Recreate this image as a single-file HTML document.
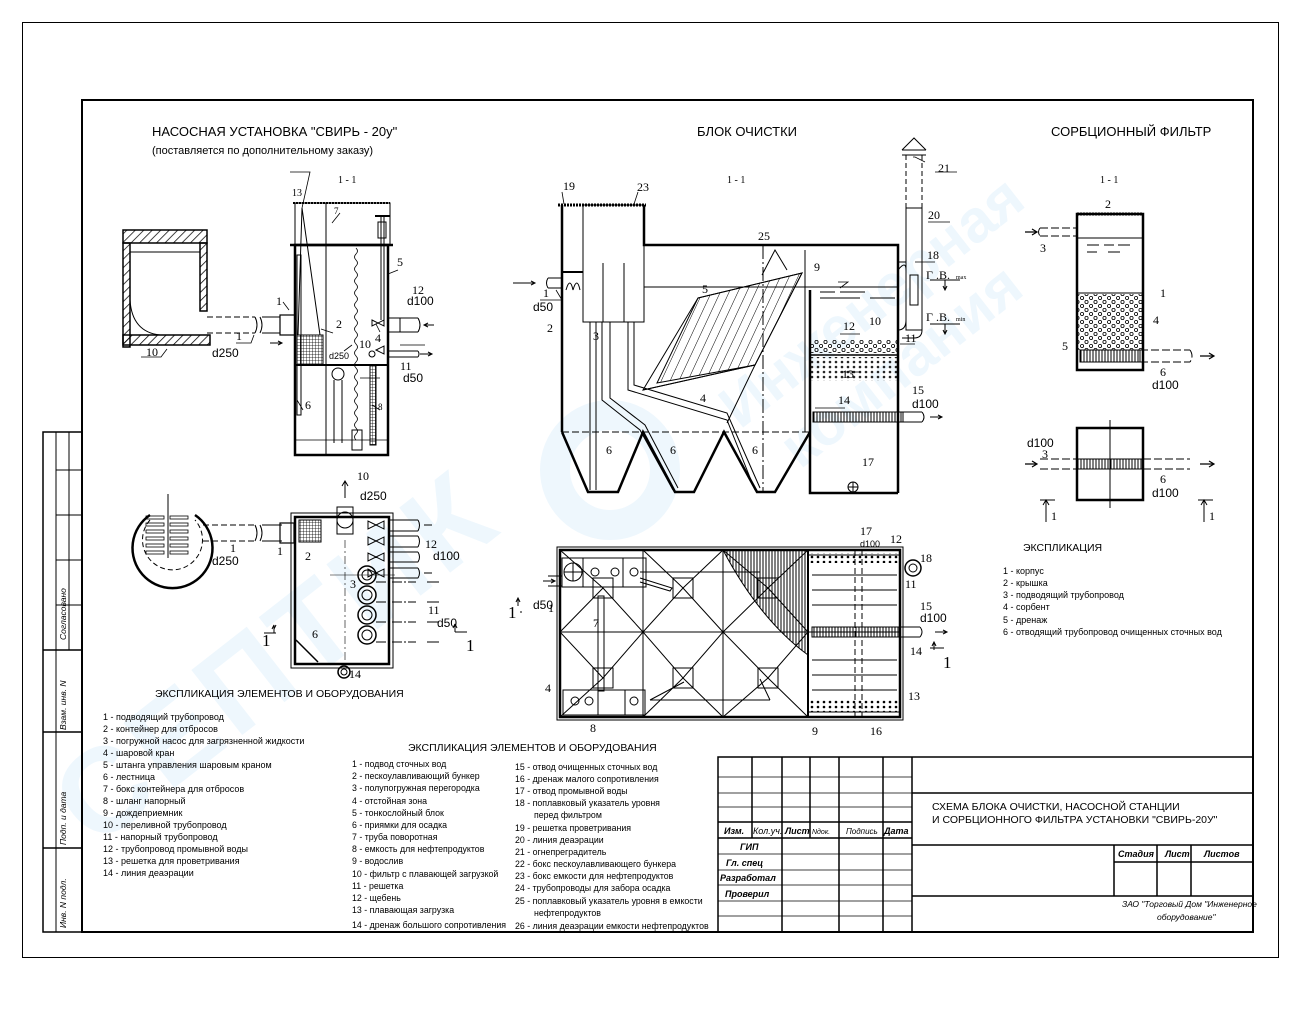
<!DOCTYPE html>
<html><head><meta charset="utf-8">
<style>
html,body{margin:0;padding:0;background:#fff}
svg{display:block}
text{font-family:"Liberation Sans",sans-serif;fill:#000}
.s{font-family:"Liberation Serif",serif}
</style></head><body>
<svg width="1300" height="1020" viewBox="0 0 1300 1020" xmlns="http://www.w3.org/2000/svg">
<defs>
<pattern id="peb" width="9" height="8" patternUnits="userSpaceOnUse">
<circle cx="2" cy="2" r="1.6" fill="none" stroke="#000" stroke-width="0.8"/>
<circle cx="6.5" cy="6" r="1.6" fill="none" stroke="#000" stroke-width="0.8"/>
</pattern>
<pattern id="peb2" width="6" height="5" patternUnits="userSpaceOnUse">
<circle cx="2" cy="2" r="1.3" fill="#000"/>
</pattern>
<pattern id="vh" width="3" height="10" patternUnits="userSpaceOnUse">
<line x1="1" y1="0" x2="1" y2="10" stroke="#000" stroke-width="1"/>
</pattern>
<pattern id="grid" width="3" height="3" patternUnits="userSpaceOnUse">
<path d="M0 0H3M0 0V3" stroke="#000" stroke-width="0.8" fill="none"/>
</pattern>
<pattern id="diag" width="6" height="6" patternUnits="userSpaceOnUse" patternTransform="rotate(45)">
<line x1="0" y1="0" x2="0" y2="6" stroke="#000" stroke-width="1.5"/>
</pattern>
<pattern id="lam" width="8" height="8" patternUnits="userSpaceOnUse" patternTransform="rotate(25)">
<line x1="0" y1="0" x2="0" y2="8" stroke="#000" stroke-width="1"/>
</pattern>
</defs>

<!-- watermark -->
<g>
<text x="0" y="0" transform="translate(95,850) rotate(-38)" font-size="120" font-weight="bold" style="fill:#eef7fd" letter-spacing="6">СЕПТИК</text>
<circle cx="610" cy="470" r="55" fill="none" stroke="#eef7fd" stroke-width="30"/>
<text x="0" y="0" transform="translate(740,430) rotate(-38)" font-size="60" font-weight="bold" style="fill:#eef7fd">Инженерная</text>
<text x="0" y="0" transform="translate(800,470) rotate(-38)" font-size="60" font-weight="bold" style="fill:#eef7fd">компания</text>
</g>

<g fill="none" stroke="#000">
<!-- frames -->
<rect x="22.5" y="22.5" width="1256" height="935" stroke-width="1"/>
<rect x="82" y="100" width="1171" height="832" stroke-width="2"/>
<rect x="43" y="432" width="39" height="500" stroke-width="1.5"/>
<line x1="56" y1="432" x2="56" y2="932" stroke-width="1"/>
<line x1="43" y1="650" x2="82" y2="650" stroke-width="1.5"/>
<line x1="43" y1="732" x2="82" y2="732" stroke-width="1.5"/>
<line x1="43" y1="848" x2="82" y2="848" stroke-width="1.5"/>
<line x1="69" y1="432" x2="69" y2="650" stroke-width="1"/>
<line x1="56" y1="470" x2="82" y2="470"/><line x1="56" y1="515" x2="82" y2="515"/><line x1="56" y1="560" x2="82" y2="560"/><line x1="56" y1="605" x2="82" y2="605"/>

<!-- title block -->
<g stroke-width="1.5">
<rect x="718" y="757" width="535" height="175"/>
<line x1="912" y1="757" x2="912" y2="932"/>
<line x1="912" y1="793" x2="1253" y2="793"/>
<line x1="912" y1="845" x2="1253" y2="845"/>
<line x1="912" y1="896" x2="1253" y2="896"/>
<line x1="1114" y1="845" x2="1114" y2="896"/>
<line x1="1157" y1="845" x2="1157" y2="896"/>
<line x1="1191" y1="845" x2="1191" y2="896"/>
<line x1="1114" y1="862" x2="1253" y2="862"/>
<line x1="718" y1="838" x2="912" y2="838"/>
<line x1="718" y1="822" x2="912" y2="822"/>
<line x1="752" y1="757" x2="752" y2="838"/>
<line x1="782" y1="757" x2="782" y2="932"/>
<line x1="810" y1="757" x2="810" y2="838"/>
<line x1="839" y1="757" x2="839" y2="932"/>
<line x1="883" y1="757" x2="883" y2="932"/>
</g>
<g stroke-width="0.8">
<line x1="718" y1="777" x2="912" y2="777"/><line x1="718" y1="793" x2="912" y2="793"/><line x1="718" y1="807" x2="912" y2="807"/>
<line x1="718" y1="854" x2="912" y2="854"/><line x1="718" y1="870" x2="912" y2="870"/><line x1="718" y1="885" x2="912" y2="885"/><line x1="718" y1="901" x2="912" y2="901"/><line x1="718" y1="916" x2="912" y2="916"/>
</g>

<!-- ===== PUMP SECTION ===== -->
<g stroke-width="1.5">
<rect x="123" y="230" width="84" height="13" fill="url(#diag)"/>
<rect x="123" y="243" width="7" height="104" fill="url(#diag)"/>
<rect x="200" y="243" width="7" height="68" fill="url(#diag)"/>
<rect x="123" y="335" width="87" height="10" fill="url(#diag)"/>
<path d="M130 300 Q132 332 160 335" stroke-width="1"/>
<line x1="130" y1="252" x2="200" y2="252" stroke-width="1"/>
</g>
<g stroke-width="1" stroke-dasharray="6,3">
<line x1="207" y1="317" x2="255" y2="317"/><line x1="207" y1="333" x2="255" y2="333"/>
</g>
<path d="M255 317 q4 8 0 16 M260 317 q4 8 0 16" stroke-width="1"/>
<line x1="262" y1="317" x2="280" y2="317"/><line x1="262" y1="333" x2="280" y2="333"/>
<rect x="280" y="315" width="15" height="20" stroke-width="1.2"/>
<path d="M270 343 h12 m-4 -2 l4 2 l-4 2" stroke-width="1"/>
<!-- tank -->
<rect x="295" y="245" width="93" height="210" stroke-width="2.5"/>
<rect x="295" y="203" width="95" height="42" stroke-width="1"/>
<line x1="293" y1="203" x2="390" y2="203" stroke-width="2" stroke-dasharray="2,1"/>
<line x1="290" y1="245" x2="393" y2="245" stroke-width="2.5"/>
<line x1="326" y1="203" x2="326" y2="455" stroke-width="1"/>
<path d="M302 208 L298 335 M302 208 L320 335" stroke-width="1"/>
<rect x="297" y="335" width="26" height="30" fill="url(#grid)" stroke-width="1"/>
<line x1="295" y1="365" x2="388" y2="365" stroke-width="2"/>
<rect x="297" y="255" width="4" height="160" stroke-width="1"/>
<path d="M356 248 q3 3 0 6 q-3 3 0 6 q3 3 0 6 q-3 3 0 6 q3 3 0 6 q-3 3 0 6 q3 3 0 6 q-3 3 0 6 q3 3 0 6 q-3 3 0 6 q3 3 0 6 q-3 3 0 6 q3 3 0 6 q-3 3 0 6 q3 3 0 6 q-3 3 0 6 q3 3 0 6 q-3 3 0 6 q3 3 0 6 q-3 3 0 6 q3 3 0 6 q-3 3 0 6 q3 3 0 6 q-3 3 0 6 q3 3 0 6 q-3 3 0 6 q3 3 0 6 q-3 3 0 6 q3 3 0 6 q-3 3 0 6 q3 3 0 6 q-3 3 0 6" stroke-width="0.8"/>
<rect x="352" y="430" width="10" height="20" stroke-width="1"/>
<rect x="370" y="365" width="6" height="80" fill="url(#grid)" stroke-width="1"/>
<circle cx="338" cy="374" r="6" stroke-width="1"/>
<line x1="334" y1="380" x2="334" y2="443"/><line x1="342" y1="380" x2="342" y2="443"/>
<line x1="295" y1="440" x2="388" y2="440" stroke-width="0.8"/>
<line x1="381" y1="215" x2="381" y2="320" stroke-width="1"/><line x1="384" y1="215" x2="384" y2="320" stroke-width="1"/>
<rect x="378" y="222" width="8" height="16" stroke-width="1"/>
<line x1="375" y1="216" x2="390" y2="216" stroke-width="2"/>
<path d="M372 320 l12 6 v-6 l-12 6z" stroke-width="1"/>
<path d="M388 318 h30 M388 332 h30 M400 318 v14 M418 318 q4 7 0 14" stroke-width="1"/>
<path d="M434 325 h-10 m4 -2 l-4 2 l4 2" stroke-width="1"/>
<circle cx="372" cy="354" r="3" stroke-width="1"/>
<path d="M376 350 l8 4 v-8 l-8 4z M388 351 h30 M388 357 h30 M418 351 q2 3 0 6" stroke-width="1"/>
<path d="M420 354 h12 m-4 -2 l4 2 l-4 2" stroke-width="1"/>

<!-- pump plan -->
<path d="M150 515 A40 40 0 1 0 195 515" stroke-width="2.5"/>
<path d="M150 520 A30 30 0 1 0 195 520" stroke-width="1" stroke-dasharray="5,3"/>
<line x1="168" y1="494" x2="168" y2="558" stroke-width="1"/>
<g stroke-width="0.8">
<rect x="146" y="516" width="18" height="3"/><rect x="170" y="516" width="18" height="3"/>
<rect x="146" y="523" width="18" height="3"/><rect x="170" y="523" width="18" height="3"/>
<rect x="146" y="530" width="18" height="3"/><rect x="170" y="530" width="18" height="3"/>
<rect x="146" y="537" width="18" height="3"/><rect x="170" y="537" width="18" height="3"/>
<rect x="146" y="544" width="18" height="3"/><rect x="170" y="544" width="18" height="3"/>
<rect x="146" y="551" width="18" height="3"/><rect x="170" y="551" width="18" height="3"/>
</g>
<g stroke-width="1" stroke-dasharray="6,3"><line x1="203" y1="525" x2="255" y2="525"/><line x1="203" y1="541" x2="255" y2="541"/></g>
<path d="M255 525 q4 8 0 16 M260 525 q4 8 0 16 M262 525 h20 M262 541 h20" stroke-width="1"/>
<rect x="280" y="523" width="14" height="20" stroke-width="1.2"/>
<rect x="291" y="513" width="102" height="155" stroke-width="1"/>
<rect x="295" y="517" width="94" height="147" stroke-width="2.5"/>
<rect x="299" y="520" width="22" height="22" fill="url(#grid)" stroke-width="1"/>
<rect x="337" y="507" width="16" height="27" stroke-width="1"/>
<circle cx="345" cy="520" r="8" stroke-width="1"/>
<line x1="345" y1="498" x2="345" y2="482" stroke-width="1"/><path d="M342 486 l3 -5 l3 5" stroke-width="1"/>
<line x1="345" y1="540" x2="345" y2="660" stroke-width="0.6" stroke-dasharray="8,3,2,3"/>
<line x1="330" y1="575" x2="395" y2="575" stroke-width="0.6"/>
<circle cx="367" cy="575" r="9" stroke-width="1.5"/><circle cx="367" cy="575" r="5"/>
<circle cx="367" cy="595" r="9" stroke-width="1.5"/><circle cx="367" cy="595" r="5"/>
<circle cx="367" cy="615" r="9" stroke-width="1.5"/><circle cx="367" cy="615" r="5"/>
<circle cx="367" cy="635" r="9" stroke-width="1.5"/><circle cx="367" cy="635" r="5"/>
<line x1="296" y1="640" x2="318" y2="662" stroke-width="1.5"/>
<g stroke-width="1">
<path d="M376 525 l8 -4 v8 z M376 525 l-8 -4 v8z M388 520 h30 M388 531 h30 M418 520 q3 5 0 11"/>
<path d="M376 541 l8 -4 v8 z M376 541 l-8 -4 v8z M388 536 h30 M388 547 h30 M418 536 q3 5 0 11"/>
<path d="M376 557 l8 -4 v8 z M376 557 l-8 -4 v8z M388 552 h30 M388 562 h30 M418 552 q3 5 0 10"/>
<path d="M376 573 l8 -4 v8 z M376 573 l-8 -4 v8z M388 568 h30 M388 578 h30 M418 568 q3 5 0 10"/>
<path d="M376 582 h40 M376 602 h40 M376 622 h40 M376 642 h40" stroke-dasharray="10,2,2,2"/>
<path d="M427 582 h12 M427 602 h12 M427 622 h12 M427 642 h12"/>
<path d="M432 525 h-8 M432 573 h-8"/>
</g>
<circle cx="344" cy="672" r="6" stroke-width="1.5"/><circle cx="344" cy="672" r="3"/>

<!-- section marks pump -->
<path d="M264 633 h12 M274 633 v-8 l-2 4 M276 625 l-2 4" stroke-width="1"/>
<path d="M455 632 v-8 l-2 4 M455 624 l2 4 M455 632 h12" stroke-width="1"/>

<!-- ===== CLEANING BLOCK SECTION ===== -->
<g stroke-width="2.5">
<path d="M562 205 V432 M644 205 V245 H898 V493 M810 290 V493 H898"/>
<path d="M562 432 L588 492 H618 L643 432 L675 492 H694 L724 432 L757 492 H775 L810 432"/>
</g>
<line x1="558" y1="205" x2="646" y2="205" stroke-width="3" stroke-dasharray="2,1"/>
<line x1="562" y1="432" x2="810" y2="432" stroke-width="1" stroke-dasharray="7,3"/>
<g stroke-width="1">
<rect x="583" y="205" width="61" height="117"/>
<line x1="562" y1="272" x2="583" y2="272" stroke-width="2"/>
<path d="M566 290 q4 -14 7 0 q4 -14 7 0"/>
<line x1="644" y1="287" x2="810" y2="287"/>
<line x1="603" y1="263" x2="603" y2="322"/><line x1="624" y1="263" x2="624" y2="322"/>
<path d="M590 322 V490 M596 322 V490"/>
<path d="M602 322 V400 L640 430 L673 490 M610 322 V398 L645 425 L678 488"/>
<path d="M628 322 V390 L727 420 L755 490 M634 322 V385 L727 413 L760 488"/>
<path d="M698 298 L802 273 L755 365 L643 390 Z"/>
<path d="M698 298 L802 273 L755 365 L657 383 Z" fill="url(#lam)"/>
<path d="M643 390 L755 365 L727 423"/>
<path d="M763 245 V493" stroke-dasharray="14,3,2,3"/>
<path d="M762 275 L775 250 L787 270"/>
<line x1="805" y1="250" x2="805" y2="432"/>
<path d="M810 287 H898 M820 292 h15 M840 292 h25 M820 298 h40 M870 298 h25" />
<rect x="810" y="340" width="88" height="13" fill="url(#peb)" stroke="none"/>
<line x1="810" y1="355" x2="898" y2="355" stroke-width="1.5"/>
<rect x="810" y="357" width="88" height="24" fill="url(#peb2)" stroke="none" opacity="0.85"/>
<rect x="813" y="412" width="90" height="10" fill="url(#vh)"/>
<path d="M900 412 h22 M900 422 h22 M922 412 q4 5 0 10"/>
<path d="M930 417 h12 m-4 -2 l4 2 l-4 2"/>
<circle cx="853" cy="487" r="5"/><path d="M848 487 h10 M853 482 v10"/>
<path d="M513 283 h22 m-4 -2 l4 2 l-4 2"/>
<path d="M548 278 h14 M548 288 h14 M548 278 q-3 5 0 10"/>
<path d="M898 262 h8 V208 M922 208 V330 q0 8 -8 8 h-12"/>
<rect x="906" y="208" width="16" height="122"/>
<path d="M906 208 V155 M922 208 V155" stroke-dasharray="5,3"/>
<rect x="910" y="275" width="8" height="30"/>
<path d="M902 155 h24 M902 150 h24 M902 150 l12 -12 l12 12"/>
<path d="M898 270 q8 -10 8 0 v50 q0 10 -8 10"/>
</g>
<path d="M930 280 h30 M945 280 v10 m-2 -4 l2 4 l2 -4" stroke-width="1" fill="none"/>
<path d="M930 324 h30 M945 324 v10 m-2 -4 l2 4 l2 -4" stroke-width="1" fill="none"/>

<!-- ===== CLEANING BLOCK PLAN ===== -->
<rect x="557" y="547" width="346" height="173" stroke-width="1"/>
<rect x="560" y="550" width="340" height="167" stroke-width="2.5"/>
<g stroke-width="1">
<line x1="560" y1="632" x2="900" y2="632"/>
<line x1="643" y1="550" x2="643" y2="717"/><line x1="723" y1="550" x2="723" y2="717"/><line x1="808" y1="550" x2="808" y2="717" stroke-width="2"/>
<path d="M560 632 L603 588 L643 632 L683 588 L723 632 L768 588 L808 632"/>
<path d="M560 632 L603 678 L643 632 L683 678 L723 632 L768 678 L808 632"/>
<path d="M643 550 L683 588 M723 550 L683 588 M723 550 L768 588 M808 550 L768 588 M643 717 L683 678 M723 717 L683 678 M723 717 L768 678 M808 717 L768 678 M560 550 L603 588 M560 717 L603 678"/>
<rect x="593" y="578" width="20" height="20"/><rect x="673" y="578" width="20" height="20"/><rect x="758" y="578" width="20" height="20"/>
<rect x="593" y="668" width="20" height="20"/><rect x="673" y="668" width="20" height="20"/><rect x="758" y="668" width="20" height="20"/>
<rect x="562" y="558" width="84" height="29"/>
<line x1="583" y1="558" x2="583" y2="587"/><line x1="623" y1="558" x2="623" y2="587"/>
<circle cx="573" cy="572" r="9"/><path d="M564 572 h18 M573 563 v18"/>
<circle cx="595" cy="572" r="4"/><circle cx="615" cy="572" r="4"/><circle cx="634" cy="572" r="4"/>
<rect x="563" y="690" width="82" height="25"/>
<line x1="598" y1="690" x2="598" y2="715"/><line x1="625" y1="690" x2="625" y2="715"/>
<circle cx="575" cy="701" r="4"/><circle cx="589" cy="701" r="4"/><circle cx="634" cy="701" r="4"/>
<rect x="598" y="596" width="6" height="95"/>
<path d="M640 572 H760 M640 578 L672 588 L670 591 L640 582 M650 700 H770 M650 700 L684 682 M770 700 L760 679"/>
<path d="M723 550 Q760 620 808 655 L808 550 Z" fill="url(#vh)"/>
<path d="M543 581 h12 m-4 -2 l4 2 l-4 2 M548 576 h14 M548 586 h14"/>
<path d="M808 555 h92 M808 712 h92"/>
<rect x="810" y="553" width="88" height="10" fill="url(#peb2)" stroke="none"/>
<rect x="810" y="700" width="88" height="12" fill="url(#peb2)" stroke="none"/>
<line x1="812" y1="575" x2="897" y2="575"/><line x1="812" y1="590" x2="897" y2="590"/><line x1="812" y1="605" x2="897" y2="605"/>
<line x1="812" y1="660" x2="897" y2="660"/><line x1="812" y1="675" x2="897" y2="675"/><line x1="812" y1="690" x2="897" y2="690"/>
<rect x="812" y="627" width="88" height="10" fill="url(#vh)"/>
<path d="M855 550 V717 M862 550 V717" stroke-dasharray="6,3"/>
<path d="M900 627 h20 M900 637 h20 M920 627 q4 5 0 10 M935 632 h12 m-4 -2 l4 2 l-4 2"/>
<circle cx="913" cy="568" r="8" stroke-width="1.5"/><circle cx="913" cy="568" r="4"/>
<path d="M520 612 h2 M518 606 v-8 m-2 4 l2 -4 l2 4"/>
<path d="M934 650 v-8 m-2 4 l2 -4 l2 4 M930 648 h14"/>
</g>

<!-- ===== SORPTION FILTER ===== -->
<rect x="1077" y="214" width="66" height="156" stroke-width="2.5"/>
<line x1="1077" y1="214" x2="1143" y2="214" stroke-width="3" stroke-dasharray="2,1"/>
<line x1="1077" y1="238" x2="1143" y2="238" stroke-width="1"/>
<line x1="1077" y1="293" x2="1143" y2="293" stroke-width="1"/>
<rect x="1078" y="294" width="64" height="56" fill="url(#peb)" stroke="none"/>
<rect x="1080" y="350" width="60" height="12" fill="url(#vh)" stroke-width="1"/>
<path d="M1087 245 h12 M1104 245 h10 M1087 252 h10 M1108 252 h12 M1118 245 h12" stroke-width="1"/>
<path d="M1140 350 H1190 M1140 362 H1190 M1190 350 q4 6 0 12" stroke-width="1" stroke-dasharray="8,3"/>
<path d="M1200 356 h14 m-5 -3 l5 3 l-5 3" stroke-width="1.2"/>
<path d="M1040 228 H1077 M1040 236 H1077 M1040 228 q-3 4 0 8" stroke-width="1" stroke-dasharray="8,3"/>
<path d="M1025 232 h12 m-5 -3 l5 3 l-5 3" stroke-width="1.2"/>
<rect x="1077" y="428" width="66" height="72" stroke-width="2.5"/>
<line x1="1110" y1="420" x2="1110" y2="508" stroke-width="1"/>
<rect x="1077" y="459" width="66" height="10" fill="url(#vh)" stroke-width="1"/>
<path d="M1040 459 H1077 M1040 469 H1077 M1143 459 H1190 M1143 469 H1190" stroke-width="1" stroke-dasharray="8,3"/>
<path d="M1025 464 h12 m-5 -3 l5 3 l-5 3 M1200 464 h14 m-5 -3 l5 3 l-5 3" stroke-width="1.2"/>
<path d="M1040 500 h15 M1046 522 v-22 m-3 5 l3 -5 l3 5 M1198 500 h15 M1204 522 v-22 m-3 5 l3 -5 l3 5" stroke-width="1"/>

<!-- leaders -->
<g stroke-width="0.8">
<path d="M290 172 h20 L302 208 M340 213 l-8 10 M398 270 l-10 4 M380 332 l-4 -8 M283 302 l6 8 M236 343 h15 l3 -8 M141 357 h20 l6 -8 M333 333 l-12 -4 M352 345 l-8 6 M360 378 h20 M400 345 h25 M380 410 l-8 -5 M303 410 l-6 -10"/>
<path d="M562 192 l2 12 M638 192 l-4 12 M925 162 l-10 -5 h-2 M935 172 h22 M928 222 h22 M915 262 h20 M540 300 h22 l-6 -10 M838 282 h10 l-8 6 M840 334 h20 M840 372 h20 M815 408 h30 M915 344 h-15"/>
</g>
</g>

<!-- ===== TEXT ===== -->
<g font-size="13">
<text x="152" y="136">НАСОСНАЯ УСТАНОВКА  "СВИРЬ - 20у"</text>
<text x="697" y="136">БЛОК ОЧИСТКИ</text>
<text x="1051" y="136">СОРБЦИОННЫЙ ФИЛЬТР</text>
</g>
<text x="152" y="154" font-size="11">(поставляется по дополнительному заказу)</text>
<g class="s" font-size="10">
<text x="338" y="183" class="s">1  -  1</text>
<text x="727" y="183" class="s">1  -  1</text>
<text x="1100" y="183" class="s">1  -  1</text>
</g>
<g class="s" font-size="12">
<text x="292" y="196" class="s" font-size="10">13</text>
<text x="334" y="214" class="s" font-size="9">7</text>
<text x="397" y="266" class="s">5</text>
<text x="276" y="305" class="s">1</text>
<text x="336" y="328" class="s">2</text>
<text x="375" y="342" class="s">4</text>
<text x="305" y="409" class="s">6</text>
<text x="378" y="410" class="s" font-size="9">8</text>
<text x="236" y="340" class="s">1</text>
<text x="146" y="356" class="s">10</text>
<text x="359" y="348" class="s">10</text>
<text x="400" y="370" class="s">11</text>
<text x="412" y="294" class="s">12</text>
<text x="357" y="480" class="s">10</text>
<text x="230" y="552" class="s">1</text>
<text x="277" y="555" class="s">1</text>
<text x="305" y="560" class="s">2</text>
<text x="350" y="588" class="s">3</text>
<text x="312" y="638" class="s">6</text>
<text x="349" y="678" class="s">14</text>
<text x="425" y="548" class="s">12</text>
<text x="428" y="614" class="s">11</text>
<text x="563" y="190" class="s">19</text>
<text x="637" y="191" class="s">23</text>
<text x="758" y="240" class="s">25</text>
<text x="938" y="172" class="s">21</text>
<text x="928" y="219" class="s">20</text>
<text x="927" y="259" class="s">18</text>
<text x="814" y="271" class="s">9</text>
<text x="702" y="293" class="s">5</text>
<text x="543" y="297" class="s">1</text>
<text x="547" y="332" class="s">2</text>
<text x="593" y="340" class="s">3</text>
<text x="700" y="402" class="s">4</text>
<text x="843" y="330" class="s">12</text>
<text x="869" y="325" class="s">10</text>
<text x="905" y="342" class="s">11</text>
<text x="842" y="378" class="s">13</text>
<text x="838" y="404" class="s">14</text>
<text x="912" y="394" class="s">15</text>
<text x="606" y="454" class="s">6</text>
<text x="670" y="454" class="s">6</text>
<text x="752" y="454" class="s">6</text>
<text x="862" y="466" class="s">17</text>
<text x="548" y="612" class="s">1</text>
<text x="593" y="627" class="s">7</text>
<text x="545" y="692" class="s">4</text>
<text x="590" y="732" class="s">8</text>
<text x="812" y="735" class="s">9</text>
<text x="870" y="735" class="s">16</text>
<text x="908" y="700" class="s">13</text>
<text x="910" y="655" class="s">14</text>
<text x="920" y="610" class="s">15</text>
<text x="905" y="588" class="s">11</text>
<text x="890" y="543" class="s">12</text>
<text x="860" y="535" class="s">17</text>
<text x="920" y="562" class="s">18</text>
<text x="1105" y="208" class="s">2</text>
<text x="1040" y="252" class="s">3</text>
<text x="1160" y="297" class="s">1</text>
<text x="1153" y="324" class="s">4</text>
<text x="1062" y="350" class="s">5</text>
<text x="1160" y="376" class="s">6</text>
<text x="1042" y="458" class="s">3</text>
<text x="1160" y="483" class="s">6</text>
</g>
<g font-size="12">
<text x="212" y="357">d250</text><text x="407" y="305">d100</text><text x="403" y="382">d50</text>
<text x="329" y="359" font-size="9">d250</text><text x="360" y="500">d250</text>
<text x="212" y="565">d250</text><text x="433" y="560">d100</text><text x="437" y="627">d50</text>
<text x="533" y="311">d50</text><text x="912" y="408">d100</text>
<text x="533" y="609">d50</text><text x="920" y="622">d100</text><text x="860" y="547" font-size="9">d100</text>
<text x="1152" y="389">d100</text><text x="1027" y="447">d100</text><text x="1152" y="497">d100</text>
</g>
<g class="s" font-size="12">
<text x="926" y="279" class="s">Г .В.</text><text x="956" y="279" class="s" font-size="6">max</text>
<text x="926" y="321" class="s">Г .В.</text><text x="956" y="321" class="s" font-size="6">min</text>
<text x="262" y="646" class="s" font-size="17">1</text>
<text x="466" y="651" class="s" font-size="17">1</text>
<text x="508" y="618" class="s" font-size="17">1</text>
<text x="943" y="668" class="s" font-size="17">1</text>
<text x="1051" y="520" class="s">1</text>
<text x="1209" y="520" class="s">1</text>
</g>

<!-- explications -->
<text x="155" y="697" font-size="10.5">ЭКСПЛИКАЦИЯ ЭЛЕМЕНТОВ И ОБОРУДОВАНИЯ</text>
<g font-size="9">
<text x="103" y="720">1 - подводящий трубопровод</text>
<text x="103" y="732">2 - контейнер для отбросов</text>
<text x="103" y="744">3 - погружной насос для загрязненной жидкости</text>
<text x="103" y="756">4 - шаровой кран</text>
<text x="103" y="768">5 - штанга управления шаровым краном</text>
<text x="103" y="780">6 - лестница</text>
<text x="103" y="792">7 - бокс контейнера для отбросов</text>
<text x="103" y="804">8 - шланг напорный</text>
<text x="103" y="816">9 - дождеприемник</text>
<text x="103" y="828">10 - переливной трубопровод</text>
<text x="103" y="840">11 - напорный трубопровод</text>
<text x="103" y="852">12 - трубопровод промывной воды</text>
<text x="103" y="864">13 - решетка для  проветривания</text>
<text x="103" y="876">14 - линия деаэрации</text>
</g>
<text x="408" y="751" font-size="10.5">ЭКСПЛИКАЦИЯ ЭЛЕМЕНТОВ И ОБОРУДОВАНИЯ</text>
<g font-size="8.8">
<text x="352" y="767">1 - подвод сточных вод</text>
<text x="352" y="779">2 - пескоулавливающий бункер</text>
<text x="352" y="791">3 - полупогружная перегородка</text>
<text x="352" y="804">4 - отстойная зона</text>
<text x="352" y="816">5 - тонкослойный блок</text>
<text x="352" y="828">6 - приямки для осадка</text>
<text x="352" y="840">7 - труба поворотная</text>
<text x="352" y="852">8 - емкость для нефтепродуктов</text>
<text x="352" y="864">9 - водослив</text>
<text x="352" y="877">10 - фильтр с плавающей загрузкой</text>
<text x="352" y="889">11 - решетка</text>
<text x="352" y="901">12 - щебень</text>
<text x="352" y="913">13 - плавающая загрузка</text>
<text x="352" y="928">14 - дренаж большого сопротивления</text>
<text x="515" y="770">15 - отвод очищенных сточных вод</text>
<text x="515" y="782">16 - дренаж малого сопротивления</text>
<text x="515" y="794">17 - отвод промывной воды</text>
<text x="515" y="806">18 - поплавковый указатель уровня</text>
<text x="534" y="818">перед фильтром</text>
<text x="515" y="831">19 - решетка проветривания</text>
<text x="515" y="843">20 - линия деаэрации</text>
<text x="515" y="855">21 - огнепреградитель</text>
<text x="515" y="867">22 - бокс пескоулавливающего бункера</text>
<text x="515" y="879">23 - бокс емкости для нефтепродуктов</text>
<text x="515" y="891">24 -  трубопроводы для забора осадка</text>
<text x="515" y="904">25 - поплавковый указатель уровня в емкости</text>
<text x="534" y="916">нефтепродуктов</text>
<text x="515" y="929">26 - линия деаэрации емкости нефтепродуктов</text>
</g>
<text x="1023" y="551" font-size="10.5">ЭКСПЛИКАЦИЯ</text>
<g font-size="9">
<text x="1003" y="574">1 - корпус</text>
<text x="1003" y="586">2 - крышка</text>
<text x="1003" y="598">3 - подводящий трубопровод</text>
<text x="1003" y="610">4 - сорбент</text>
<text x="1003" y="623">5 - дренаж</text>
<text x="1003" y="635">6 - отводящий трубопровод очищенных сточных вод</text>
</g>

<!-- title block text -->
<g font-size="10.5">
<text x="932" y="810">СХЕМА БЛОКА ОЧИСТКИ, НАСОСНОЙ СТАНЦИИ</text>
<text x="932" y="823">И СОРБЦИОННОГО ФИЛЬТРА УСТАНОВКИ "СВИРЬ-20У"</text>
</g>
<g font-size="9" font-style="italic">
<text x="724" y="834" font-weight="bold">Изм.</text><text x="753" y="834">Кол.уч.</text><text x="785" y="834" font-weight="bold">Лист</text><text x="812" y="834" font-size="7">Nдок.</text><text x="846" y="834" font-size="8">Подпись</text><text x="884" y="834" font-weight="bold">Дата</text>
<text x="740" y="850" font-weight="bold">ГИП</text>
<text x="726" y="866" font-weight="bold">Гл. спец</text>
<text x="720" y="881" font-weight="bold">Разработал</text>
<text x="725" y="897" font-weight="bold">Проверил</text>
<text x="1118" y="857" font-weight="bold">Стадия</text><text x="1165" y="857" font-weight="bold">Лист</text><text x="1204" y="857" font-weight="bold">Листов</text>
<text x="1122" y="907" font-size="8.5">ЗАО "Торговый Дом "Инженерное</text>
<text x="1157" y="920" font-size="8.5">оборудование"</text>
</g>
<g font-size="8.5" font-style="italic">
<text transform="translate(66,640) rotate(-90)">Согласовано</text>
<text transform="translate(66,730) rotate(-90)">Взам. инв. N</text>
<text transform="translate(66,845) rotate(-90)">Подп. и дата</text>
<text transform="translate(66,928) rotate(-90)">Инв. N подл.</text>
</g>
</svg>
</body></html>
